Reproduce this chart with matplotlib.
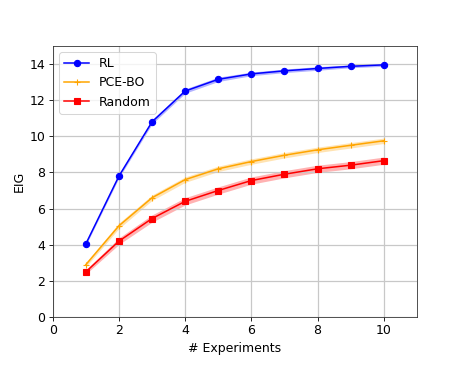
import matplotlib
matplotlib.use("Agg")
import matplotlib.pyplot as plt
import numpy as np

experiments = [1, 2, 3, 4, 5, 6, 7, 8, 9, 10]
rl_mean = [4.05, 7.8, 10.8, 12.5, 13.15, 13.45, 13.62, 13.75, 13.87, 13.95]
rl_std = [0.08, 0.1, 0.12, 0.12, 0.12, 0.1, 0.1, 0.1, 0.08, 0.08]
pce_mean = [2.9, 5.05, 6.6, 7.6, 8.2, 8.6, 8.95, 9.25, 9.5, 9.75]
pce_std = [0.12, 0.15, 0.15, 0.15, 0.15, 0.15, 0.15, 0.15, 0.15, 0.15]
rand_mean = [2.5, 4.2, 5.45, 6.4, 7.0, 7.55, 7.9, 8.2, 8.4, 8.65]
rand_std = [0.12, 0.18, 0.2, 0.2, 0.2, 0.2, 0.2, 0.2, 0.2, 0.2]

s = 0.75
plt.rcParams.update({
    "font.size": 9,
    "axes.linewidth": 0.8 * s,
    "axes.edgecolor": "#333333",
    "grid.linewidth": 0.9,
    "grid.color": "#c8c8c8",
    "xtick.major.size": 3.5 * s,
    "ytick.major.size": 3.5 * s,
    "xtick.major.width": 0.8 * s,
    "ytick.major.width": 0.8 * s,
    "xtick.major.pad": 3.5 * s,
    "ytick.major.pad": 3.5 * s,
    "axes.labelpad": 4.0 * s,
    "patch.linewidth": 1.0 * s,
})

fig = plt.figure(figsize=(4.59, 3.73), dpi=100)
ax = fig.add_axes([0.115, 0.150, 0.793, 0.727])

x = np.array(experiments)
series = [
    ("RL", rl_mean, rl_std, "blue", "o", 4.5),
    ("PCE-BO", pce_mean, pce_std, "orange", "+", 5),
    ("Random", rand_mean, rand_std, "red", "s", 4.5),
]
for label, m, sd, c, mk, ms in series:
    m = np.array(m); sd = np.array(sd)
    ax.plot(x, m, color=c, marker=mk, markersize=ms, linewidth=1.1,
            markeredgewidth=0.8, label=label)
    ax.fill_between(x, m - sd, m + sd, color=c, alpha=0.3, linewidth=0)

ax.set_xlim(0, 11)
ax.set_ylim(0, 15)
ax.set_xticks([0, 2, 4, 6, 8, 10])
ax.set_yticks([0, 2, 4, 6, 8, 10, 12, 14])
ax.set_xlabel("# Experiments")
ax.set_ylabel("EIG")
ax.grid(True)
ax.legend(loc="upper left")

fig.savefig("out.png", dpi=100)
